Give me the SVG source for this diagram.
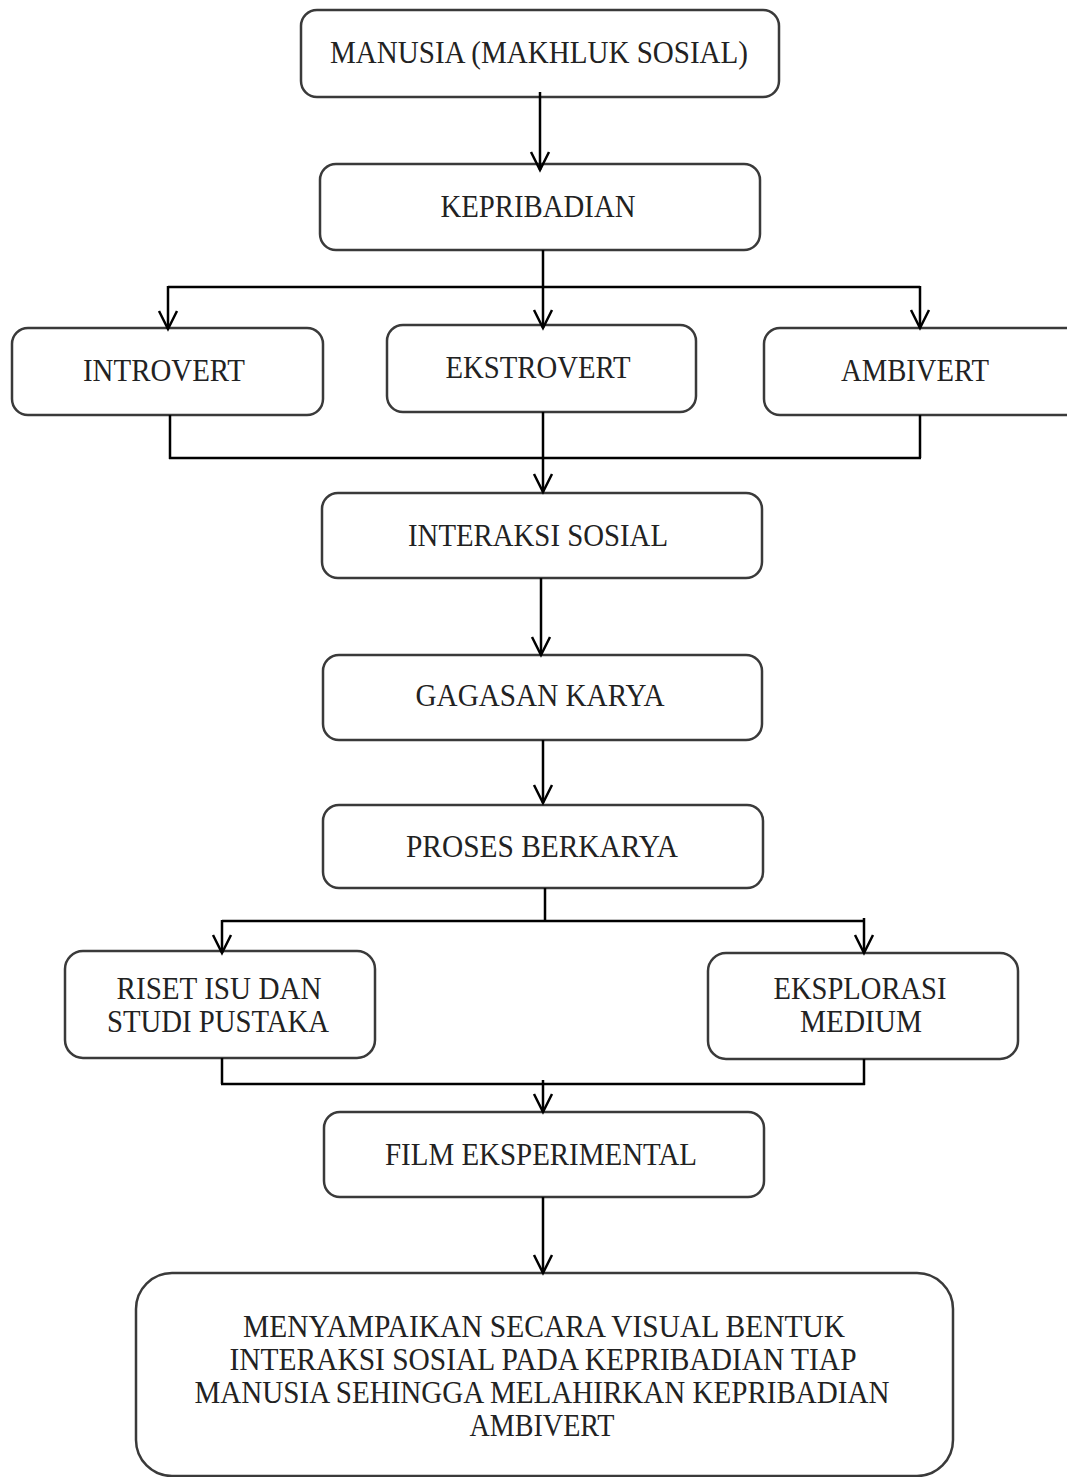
<svg xmlns="http://www.w3.org/2000/svg" width="1067" height="1477" viewBox="0 0 1067 1477">
<style>
.box{fill:#fff;stroke:#3a3a3a;stroke-width:2.5}
.t{font-family:"Liberation Serif","Times New Roman",serif;font-size:31px;fill:#222;text-anchor:middle}
.c{fill:none;stroke:#000;stroke-width:2.5}
</style>
<defs>
<marker id="a" markerUnits="userSpaceOnUse" markerWidth="24" markerHeight="24" viewBox="-20 -12 24 24" refX="0" refY="0" orient="auto">
<path d="M-18,-9 L0,0 L-18,9" fill="none" stroke="#000" stroke-width="2.5"/>
</marker>
</defs>
<rect width="1067" height="1477" fill="#fff"/>
<g id="n1"><rect class="box" x="301" y="10" width="478" height="87" rx="16"/><text class="t" x="539" y="63" textLength="418" lengthAdjust="spacingAndGlyphs">MANUSIA (MAKHLUK SOSIAL)</text></g>
<g id="n2"><rect class="box" x="320" y="164" width="440" height="86" rx="16"/><text class="t" x="538" y="217" textLength="195" lengthAdjust="spacingAndGlyphs">KEPRIBADIAN</text></g>
<g id="n3"><rect class="box" x="12" y="328" width="311" height="87" rx="16"/><text class="t" x="164" y="381" textLength="162" lengthAdjust="spacingAndGlyphs">INTROVERT</text></g>
<g id="n4"><rect class="box" x="387" y="325" width="309" height="87" rx="16"/><text class="t" x="538" y="378" textLength="185" lengthAdjust="spacingAndGlyphs">EKSTROVERT</text></g>
<g id="n5"><rect class="box" x="764" y="328" width="320" height="87" rx="16"/><text class="t" x="915" y="381" textLength="148" lengthAdjust="spacingAndGlyphs">AMBIVERT</text></g>
<g id="n6"><rect class="box" x="322" y="493" width="440" height="85" rx="16"/><text class="t" x="538" y="546" textLength="260" lengthAdjust="spacingAndGlyphs">INTERAKSI SOSIAL</text></g>
<g id="n7"><rect class="box" x="323" y="655" width="439" height="85" rx="16"/><text class="t" x="540" y="706" textLength="249" lengthAdjust="spacingAndGlyphs">GAGASAN KARYA</text></g>
<g id="n8"><rect class="box" x="323" y="805" width="440" height="83" rx="16"/><text class="t" x="542" y="857" textLength="272" lengthAdjust="spacingAndGlyphs">PROSES BERKARYA</text></g>
<g id="n9"><rect class="box" x="65" y="951" width="310" height="107" rx="18"/><text class="t" x="219" y="999" textLength="205" lengthAdjust="spacingAndGlyphs">RISET ISU DAN</text><text class="t" x="218" y="1032" textLength="222" lengthAdjust="spacingAndGlyphs">STUDI PUSTAKA</text></g>
<g id="n10"><rect class="box" x="708" y="953" width="310" height="106" rx="18"/><text class="t" x="860" y="999" textLength="173" lengthAdjust="spacingAndGlyphs">EKSPLORASI</text><text class="t" x="861" y="1032" textLength="122" lengthAdjust="spacingAndGlyphs">MEDIUM</text></g>
<g id="n11"><rect class="box" x="324" y="1112" width="440" height="85" rx="16"/><text class="t" x="541" y="1165" textLength="312" lengthAdjust="spacingAndGlyphs">FILM EKSPERIMENTAL</text></g>
<g id="n12"><rect class="box" x="136" y="1273" width="817" height="203" rx="36"/>
<text class="t" x="544" y="1337" textLength="602" lengthAdjust="spacingAndGlyphs">MENYAMPAIKAN SECARA VISUAL BENTUK</text>
<text class="t" x="543" y="1370" textLength="627" lengthAdjust="spacingAndGlyphs">INTERAKSI SOSIAL PADA KEPRIBADIAN TIAP</text>
<text class="t" x="542" y="1403" textLength="695" lengthAdjust="spacingAndGlyphs">MANUSIA SEHINGGA MELAHIRKAN KEPRIBADIAN</text>
<text class="t" x="542" y="1436" textLength="145" lengthAdjust="spacingAndGlyphs">AMBIVERT</text></g>
<g id="connectors">
<path class="c" d="M540,92 L540,170" marker-end="url(#a)"/>
<path class="c" d="M543,250 L543,328" marker-end="url(#a)"/>
<path class="c" d="M168,287 L920,287"/>
<path class="c" d="M168,286 L168,329" marker-end="url(#a)"/>
<path class="c" d="M920,286 L920,328" marker-end="url(#a)"/>
<path class="c" d="M170,415 L170,459 M920,415 L920,458 M169,458 L921,458"/>
<path class="c" d="M543,412 L543,492" marker-end="url(#a)"/>
<path class="c" d="M541,578 L541,655" marker-end="url(#a)"/>
<path class="c" d="M543,740 L543,803" marker-end="url(#a)"/>
<path class="c" d="M545,888 L545,921 M222,921 L864,921"/>
<path class="c" d="M222,920 L222,953" marker-end="url(#a)"/>
<path class="c" d="M864,918 L864,953" marker-end="url(#a)"/>
<path class="c" d="M222,1058 L222,1084 M864,1059 L864,1085 M221,1084 L865,1084"/>
<path class="c" d="M543,1080 L543,1112" marker-end="url(#a)"/>
<path class="c" d="M543,1197 L543,1273" marker-end="url(#a)"/>
</g>
</svg>
